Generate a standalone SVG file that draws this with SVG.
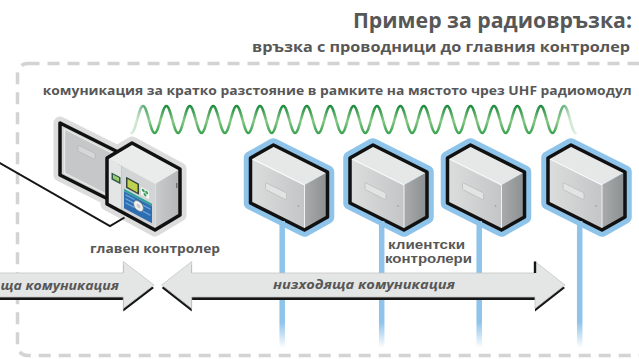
<svg xmlns="http://www.w3.org/2000/svg" xmlns:xlink="http://www.w3.org/1999/xlink" width="639" height="359" viewBox="0 0 639 359">
  <style>
    .lbl { font-family: "Open Sans", "Noto Sans", "DejaVu Sans", sans-serif; font-weight: 700; fill: #575757; }
    .tight { font-family: "Liberation Sans", "Open Sans", sans-serif; }
    .ital { font-style: italic; }
    .outline { fill: none; stroke: #111; stroke-width: 3.5; stroke-linejoin: round; }
    .halo-blue { fill: #8ec3ea; stroke: #8ec3ea; stroke-width: 13.5; stroke-linejoin: round; }
    .halo-gray { fill: #dcdcdc; stroke: #dcdcdc; stroke-width: 13; stroke-linejoin: round; }
    .cable { stroke: url(#cableFade); stroke-width: 5.5; fill: none; }
    .arrow { fill: #e4e5e5; stroke: #c4c5c5; stroke-width: 0.8; stroke-linejoin: miter; }
    .arrow-shadow { fill: #151515; }
  </style>
  <defs>
    <linearGradient id="waveShade" gradientUnits="userSpaceOnUse" x1="0" y1="105" x2="0" y2="134">
      <stop offset="0" stop-color="#17873a"/>
      <stop offset="0.55" stop-color="#84c884"/>
      <stop offset="1" stop-color="#37a04e"/>
    </linearGradient>
    <linearGradient id="fadeH" gradientUnits="userSpaceOnUse" x1="131" y1="0" x2="577" y2="0">
      <stop offset="0" stop-color="#2a2a2a"/>
      <stop offset="0.045" stop-color="#fff"/>
      <stop offset="0.95" stop-color="#fff"/>
      <stop offset="1" stop-color="#1a1a1a"/>
    </linearGradient>
    <mask id="waveFade" maskUnits="userSpaceOnUse" x="120" y="95" width="470" height="50">
      <rect x="120" y="95" width="470" height="50" fill="url(#fadeH)"/>
    </mask>
    <linearGradient id="cableFade" gradientUnits="userSpaceOnUse" x1="0" y1="322" x2="0" y2="348">
      <stop offset="0" stop-color="#8ec3ea"/>
      <stop offset="1" stop-color="#8ec3ea" stop-opacity="0"/>
    </linearGradient>
    <linearGradient id="frontFace" x1="0" y1="0" x2="1" y2="0">
      <stop offset="0" stop-color="#dcdede"/>
      <stop offset="1" stop-color="#c3c5c6"/>
    </linearGradient>
    <linearGradient id="sideFace" x1="0" y1="0" x2="1" y2="0">
      <stop offset="0" stop-color="#a9acad"/>
      <stop offset="1" stop-color="#8c8f90"/>
    </linearGradient>
    <linearGradient id="mainSide" x1="0" y1="0" x2="1" y2="0">
      <stop offset="0" stop-color="#c9cbcc"/>
      <stop offset="1" stop-color="#b3b6b7"/>
    </linearGradient>

    <!-- satellite controller cabinet, local origin = upper-left corner of front face -->
    <g id="client-box">
      <polygon class="halo-blue" points="0,0 23,-13 77,14 77,59 54,72 0,45"/>
      <polygon points="0,0 54,27 54,72 0,45" fill="url(#frontFace)"/>
      <polygon points="54,27 77,14 77,59 54,72" fill="url(#sideFace)"/>
      <polygon points="0,0 23,-13 77,14 54,27" fill="#e6e7e7"/>
      <line x1="1" y1="0.5" x2="54" y2="27" stroke="#fafafa" stroke-width="1.2"/>
      <line x1="54" y1="27" x2="54" y2="72" stroke="#f2f2f2" stroke-width="1"/>
      <g transform="matrix(1 0.5 0 1 0 0)">
        <rect x="15" y="17" width="21" height="7" rx="1" fill="#e2e3e3" stroke="#b5b7b8" stroke-width="0.6"/>
        <circle cx="48" cy="24" r="0.8" fill="#9a9c9d"/>
      </g>
      <polygon class="outline" points="0,0 23,-13 77,14 77,59 54,72 0,45"/>
    </g>
  </defs>

  <!-- site boundary and headings -->
  <rect x="17.5" y="63.5" width="640" height="292" rx="10" fill="none" stroke="#d3d3d3" stroke-width="3.5" stroke-dasharray="12 8"/>
  <text class="lbl" x="632" y="27.5" font-size="20.5" text-anchor="end" textLength="279" lengthAdjust="spacingAndGlyphs">Пример за радиовръзка:</text>
  <text class="lbl" x="630" y="51.5" font-size="14" text-anchor="end" textLength="378" lengthAdjust="spacingAndGlyphs">връзка с проводници до главния контролер</text>
  <text class="lbl" x="42.7" y="95" font-size="12" textLength="589" lengthAdjust="spacingAndGlyphs">комуникация за кратко разстояние в рамките на мястото чрез UHF радиомодул</text>

  <g id="nodes">
    <!-- main controller with open door -->
    <g id="main-controller">
      <polygon class="halo-gray" points="60,123 120,153 120,205 60,175"/>
      <polygon class="halo-gray" points="107,158 132,143 180,169 180,215 155,230 107,204"/>
      <!-- door -->
      <polygon points="60,123 120,153 120,205 60,175" fill="#d3d5d5"/>
      <polygon points="64.5,129 116,155 116,199 64.5,173" fill="#c5c7c8" stroke="#e8e9e9" stroke-width="1.3"/>
      <g transform="matrix(1 0.5 0 1 60 123)">
        <rect x="18" y="13" width="17" height="6" rx="1" fill="#d6d8d8" stroke="#aeb0b1" stroke-width="0.5"/>
      </g>
      <polygon class="outline" points="60,123 120,153 120,205 60,175"/>
      <!-- cabinet -->
      <polygon points="107,158 155,184 155,230 107,204" fill="#d8dada"/>
      <polygon points="155,184 180,169 180,215 155,230" fill="url(#mainSide)"/>
      <polygon points="107,158 132,143 180,169 155,184" fill="#eaebeb"/>
      <line x1="155" y1="184" x2="155" y2="230" stroke="#f4f4f4" stroke-width="1"/>
      <g transform="matrix(1 0.54 0 1 107 158)">
        <rect x="0" y="0" width="15" height="46" fill="#e4e5e5"/>
        <line x1="15" y1="0" x2="15" y2="46" stroke="#9c9fa0" stroke-width="0.8"/>
        <rect x="4.5" y="12" width="9" height="7" fill="#2e5b4f"/>
        <rect x="6" y="13.3" width="6" height="4" fill="#9dcc6a"/>
        <rect x="15" y="0" width="33" height="46" fill="#d2d4d5"/>
        <rect x="19" y="8.5" width="13" height="11" fill="#34463b"/>
        <rect x="20.5" y="10" width="10" height="8" fill="#bed24f"/>
        <rect x="34" y="10.5" width="8" height="8" fill="#f4f6f4"/>
        <circle cx="36.3" cy="13" r="1.5" fill="#3aa05a"/>
        <circle cx="39.7" cy="13" r="1.5" fill="#3aa05a"/>
        <circle cx="38" cy="16.3" r="1.5" fill="#3aa05a"/>
        <rect x="17" y="21.5" width="28" height="2.5" fill="#2ea29b"/>
        <rect x="17" y="24" width="28" height="17" fill="#2f6db1"/>
        <rect x="18.5" y="26" width="9" height="1.5" fill="#6aa5dc"/>
        <rect x="18.5" y="30" width="9" height="1.5" fill="#6aa5dc"/>
        <rect x="18.5" y="34" width="9" height="1.5" fill="#6aa5dc"/>
        <rect x="36" y="27" width="7.5" height="1.5" fill="#6aa5dc"/>
        <rect x="36" y="33" width="7.5" height="1.5" fill="#6aa5dc"/>
        <circle cx="31.5" cy="31" r="4.8" fill="#f0f1f1" stroke="#7d8080" stroke-width="0.6"/>
        <circle cx="31.5" cy="31" r="2" fill="#c9cbcc"/>
      </g>
      <rect x="176" y="183" width="1.4" height="5" fill="#6f7273"/>
      <polygon class="outline" points="107,158 132,143 180,169 180,215 155,230 107,204"/>
      <text class="lbl" x="155" y="252.5" font-size="12.5" text-anchor="middle" textLength="130" lengthAdjust="spacingAndGlyphs">главен контролер</text>
    </g>

    <g id="client-1" transform="translate(250.5,158)"><use href="#client-box"/></g>
    <g id="client-2" transform="translate(350,158)"><use href="#client-box"/></g>
    <g id="client-3" transform="translate(447.5,158)"><use href="#client-box"/></g>
    <g id="client-4" transform="translate(548,158)"><use href="#client-box"/></g>

    <g id="client-label">
      <text class="lbl tight" x="426.5" y="249" font-size="12" text-anchor="middle" textLength="77" lengthAdjust="spacingAndGlyphs">клиентски</text>
      <text class="lbl tight" x="428.5" y="263" font-size="12" text-anchor="middle" textLength="87" lengthAdjust="spacingAndGlyphs">контролери</text>
    </g>
  </g>

  <g id="connectors">
    <!-- field wiring into the main controller -->
    <polyline points="-2,162 110,226 124.5,217.5" fill="none" stroke="#161616" stroke-width="2" stroke-linejoin="miter"/>

    <!-- UHF radio link -->
    <path mask="url(#waveFade)" fill="none" stroke="url(#waveShade)" stroke-width="2.6" stroke-linecap="round"
      d="M131.3,133 c4.26,0 7.44,-27 11.7,-27
         s7.44,27 11.7,27 s7.44,-27 11.7,-27 s7.44,27 11.7,27 s7.44,-27 11.7,-27
         s7.44,27 11.7,27 s7.44,-27 11.7,-27 s7.44,27 11.7,27 s7.44,-27 11.7,-27
         s7.44,27 11.7,27 s7.44,-27 11.7,-27 s7.44,27 11.7,27 s7.44,-27 11.7,-27
         s7.44,27 11.7,27 s7.44,-27 11.7,-27 s7.44,27 11.7,27 s7.44,-27 11.7,-27
         s7.44,27 11.7,27 s7.44,-27 11.7,-27 s7.44,27 11.7,27 s7.44,-27 11.7,-27
         s7.44,27 11.7,27 s7.44,-27 11.7,-27 s7.44,27 11.7,27 s7.44,-27 11.7,-27
         s7.44,27 11.7,27 s7.44,-27 11.7,-27 s7.44,27 11.7,27 s7.44,-27 11.7,-27
         s7.44,27 11.7,27 s7.44,-27 11.7,-27 s7.44,27 11.7,27 s7.44,-27 11.7,-27
         s7.44,27 11.7,27 s7.44,-27 11.7,-27 s7.44,27 11.7,27 s7.44,-27 11.7,-27
         s7.44,27 11.7,27"/>

    <!-- wired links to the satellite controllers -->
    <line class="cable" x1="282.2" y1="221" x2="282.2" y2="348"/>
    <line class="cable" x1="381.7" y1="221" x2="381.7" y2="348"/>
    <line class="cable" x1="479.2" y1="221" x2="479.2" y2="348"/>
    <line class="cable" x1="579.7" y1="221" x2="579.7" y2="348"/>

    <!-- upstream communication -->
    <g id="arrow-up">
      <polygon class="arrow-shadow" transform="translate(0,3)" points="-5,273 123.3,273 123.3,261.5 154,285 123.3,308.5 123.3,297 -5,297"/>
      <polygon class="arrow" points="-5,273 123.3,273 123.3,261.5 154,285 123.3,308.5 123.3,297 -5,297"/>
      <text class="lbl ital" x="0.5" y="289.5" font-size="12" textLength="118.5" lengthAdjust="spacingAndGlyphs">ща комуникация</text>
    </g>
    <!-- downstream communication -->
    <g id="arrow-down">
      <polygon class="arrow-shadow" transform="translate(0,3)" points="161.7,285 191.7,261.5 191.7,273 535,273 535,261.5 565,285 535,308.5 535,297 191.7,297 191.7,308.5"/>
      <polygon class="arrow" points="161.7,285 191.7,261.5 191.7,273 535,273 535,261.5 565,285 535,308.5 535,297 191.7,297 191.7,308.5"/>
      <line x1="535" y1="261.5" x2="535" y2="273" stroke="#151515" stroke-width="2.4"/>
      <text class="lbl ital" x="364" y="289" font-size="12" text-anchor="middle" textLength="182" lengthAdjust="spacingAndGlyphs">низходяща комуникация</text>
    </g>
  </g>
</svg>
